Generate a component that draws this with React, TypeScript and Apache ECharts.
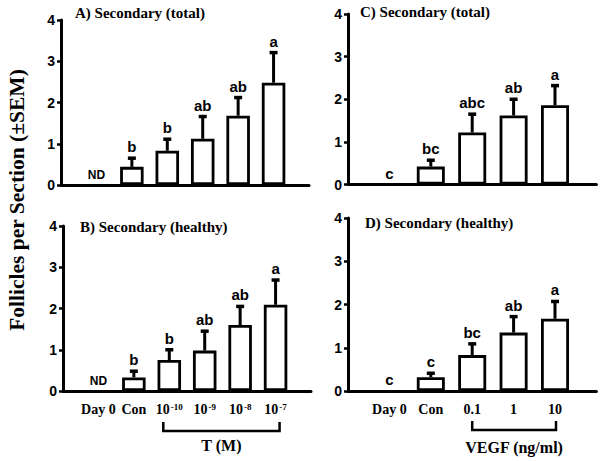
import React, { useEffect, useRef } from 'react';
import * as echarts from 'echarts';

const leftCategories = ['Day 0', 'Con', '10^-10', '10^-9', '10^-8', '10^-7'];
const rightCategories = ['Day 0', 'Con', '0.1', '1', '10'];

const aMeans = [0, 0.44, 0.83, 1.12, 1.68, 2.48];
const aErr = [0, 0.21, 0.28, 0.54, 0.44, 0.73];
const aLetters = ['ND', 'b', 'b', 'ab', 'ab', 'a'];

const bMeans = [0, 0.33, 0.75, 0.98, 1.6, 2.09];
const bErr = [0, 0.15, 0.25, 0.47, 0.45, 0.6];
const bLetters = ['ND', 'b', 'b', 'ab', 'ab', 'a'];

const cMeans = [0, 0.42, 1.22, 1.62, 1.86];
const cErr = [0, 0.15, 0.43, 0.38, 0.46];
const cLetters = ['c', 'bc', 'abc', 'ab', 'a'];

const dMeans = [0, 0.32, 0.83, 1.35, 1.67];
const dErr = [0, 0.09, 0.26, 0.37, 0.4];
const dLetters = ['c', 'c', 'bc', 'ab', 'a'];

const panelTitles = ['A) Secondary (total)', 'B) Secondary (healthy)', 'C) Secondary (total)', 'D) Secondary (healthy)'];
const yAxisTitle = 'Follicles per Section (\u00B1SEM)';
const leftGroupName = 'T (M)';
const rightGroupName = 'VEGF (ng/ml)';

const SERIF = '"Liberation Serif", "Times New Roman", serif';
const SANS = '"Liberation Sans", Arial, sans-serif';

function makeLabelFormatter(cats: string[]) {
  return (v: number) => {
    const i = Math.round(v);
    if (Math.abs(v - i) > 1e-6 || i < 0 || i >= cats.length) return '';
    const c = cats[i];
    if (c.startsWith('10^')) return `{n|10}{s|${c.slice(3)}}`;
    return `{n|${c}}`;
  };
}

function barSeries(idx: number, means: number[], barWidth: number) {
  return {
    type: 'bar',
    xAxisIndex: idx,
    yAxisIndex: idx,
    data: means.map((m, i) => [i, m > 0 ? m : '-']),
    barWidth,
    silent: true,
    itemStyle: { color: '#fff', borderColor: '#000', borderWidth: 2.8 },
    z: 2,
  };
}

function errorSeries(idx: number, means: number[], errs: number[], letters: string[]) {
  return {
    type: 'custom',
    xAxisIndex: idx,
    yAxisIndex: idx,
    silent: true,
    clip: false,
    z: 5,
    data: means.map((m, i) => [i, m, errs[i]]),
    renderItem: (params: any, api: any) => {
      const i = api.value(0);
      const m = api.value(1);
      const e = api.value(2);
      const base = api.coord([i, m]);
      const top = api.coord([i, m + e]);
      const children: any[] = [];
      if (e > 0) {
        children.push({
          type: 'line',
          shape: { x1: base[0], y1: base[1], x2: top[0], y2: top[1] },
          style: { stroke: '#000', lineWidth: 3 },
        });
        children.push({
          type: 'line',
          shape: { x1: top[0] - 4, y1: top[1], x2: top[0] + 4, y2: top[1] },
          style: { stroke: '#000', lineWidth: 3.5 },
        });
      }
      const lab = letters[params.dataIndex];
      children.push({
        type: 'text',
        x: top[0],
        y: top[1] - 4,
        style: {
          text: lab,
          align: 'center',
          verticalAlign: 'bottom',
          font: `bold ${lab === 'ND' ? 12 : 15}px ${SANS}`,
          fill: '#000',
        },
      });
      return { type: 'group', children };
    },
  };
}

function bracketSeries(idx: number, from: number, to: number, name: string, offL: number, offR: number, dy: number, ty: number) {
  return {
    type: 'custom',
    xAxisIndex: idx,
    yAxisIndex: idx,
    silent: true,
    clip: false,
    z: 5,
    data: [[from, to]],
    renderItem: (_p: any, api: any) => {
      const a = api.coord([api.value(0), 0]);
      const b = api.coord([api.value(1), 0]);
      const y = a[1] + dy;
      const xl = a[0] + offL;
      const xr = b[0] + offR;
      return {
        type: 'group',
        children: [
          {
            type: 'polyline',
            shape: { points: [[xl, y - 9], [xl, y], [xr, y], [xr, y - 9]] },
            style: { stroke: '#000', lineWidth: 2.5, fill: 'none' },
          },
          {
            type: 'text',
            x: (xl + xr) / 2,
            y: a[1] + ty,
            style: {
              text: name,
              align: 'center',
              verticalAlign: 'middle',
              font: `bold 16px ${SERIF}`,
              fill: '#000',
            },
          },
        ],
      };
    },
  };
}

function xAxis(idx: number, cats: string[], min: number, max: number, showLabels: boolean) {
  return {
    type: 'value',
    gridIndex: idx,
    min,
    max,
    interval: 1,
    splitLine: { show: false },
    axisTick: { show: false },
    axisLine: { show: true, onZero: true, lineStyle: { color: '#000', width: 3 } },
    axisLabel: {
      show: showLabels,
      margin: 11,
      formatter: makeLabelFormatter(cats),
      showMinLabel: true,
      showMaxLabel: true,
      rich: {
        n: { fontFamily: SERIF, fontWeight: 'bold', fontSize: 14, color: '#000' },
        s: { fontFamily: SERIF, fontWeight: 'bold', fontSize: 9, color: '#000', verticalAlign: 'top', padding: [0, 0, 6, 1] },
      },
    },
  };
}

function yAxis(idx: number) {
  return {
    type: 'value',
    gridIndex: idx,
    min: 0,
    max: 4,
    interval: 1,
    splitLine: { show: false },
    axisLine: { show: true, onZero: false, lineStyle: { color: '#000', width: 3 } },
    axisTick: { show: true, inside: false, length: 4, lineStyle: { color: '#000', width: 2.5 } },
    axisLabel: { margin: 6, color: '#000', fontFamily: SANS, fontWeight: 'bold', fontSize: 14 },
  };
}

export default function App() {
  const ref = useRef<HTMLDivElement>(null);
  useEffect(() => {
    if (!ref.current) return;
    const chart = echarts.init(ref.current, undefined, { renderer: 'svg' });
    const titleStyle = { fontFamily: SERIF, fontWeight: 'bold', fontSize: 15, color: '#000' };
    chart.setOption({
      animation: false,
      backgroundColor: '#fff',
      title: [
        { text: panelTitles[0], left: 75, top: 5, padding: 0, textStyle: titleStyle },
        { text: panelTitles[1], left: 80, top: 219, padding: 0, textStyle: titleStyle },
        { text: panelTitles[2], left: 360, top: 4, padding: 0, textStyle: titleStyle },
        { text: panelTitles[3], left: 365, top: 215, padding: 0, textStyle: titleStyle },
      ],
      grid: [
        { left: 61, top: 20, width: 248, height: 165 },
        { left: 63, top: 226, width: 248, height: 165 },
        { left: 348, top: 14, width: 248.4, height: 170.5 },
        { left: 348, top: 218, width: 248.4, height: 173 },
      ],
      xAxis: [
        xAxis(0, leftCategories, -1, 6, false),
        xAxis(1, leftCategories, -1, 6, true),
        xAxis(2, rightCategories, -1, 5, false),
        xAxis(3, rightCategories, -1, 5, true),
      ],
      yAxis: [yAxis(0), yAxis(1), yAxis(2), yAxis(3)],
      graphic: [
        {
          type: 'text',
          x: 17,
          y: 200,
          rotation: Math.PI / 2,
          style: {
            text: yAxisTitle,
            align: 'center',
            verticalAlign: 'middle',
            font: `bold 21.5px ${SERIF}`,
            fill: '#000',
          },
        },
      ],
      series: [
        barSeries(0, aMeans, 23.5),
        errorSeries(0, aMeans, aErr, aLetters),
        barSeries(1, bMeans, 23.5),
        errorSeries(1, bMeans, bErr, bLetters),
        barSeries(2, cMeans, 28),
        errorSeries(2, cMeans, cErr, cLetters),
        barSeries(3, dMeans, 28),
        errorSeries(3, dMeans, dErr, dLetters),
        bracketSeries(1, 2, 5, leftGroupName, -6, 4, 40, 54),
        bracketSeries(3, 2, 4, rightGroupName, 0, 1, 39, 56),
      ],
    });
    return () => chart.dispose();
  }, []);
  return <div ref={ref} style={{ position: 'fixed', left: 0, top: 0, width: 604, height: 461 }} />;
}
